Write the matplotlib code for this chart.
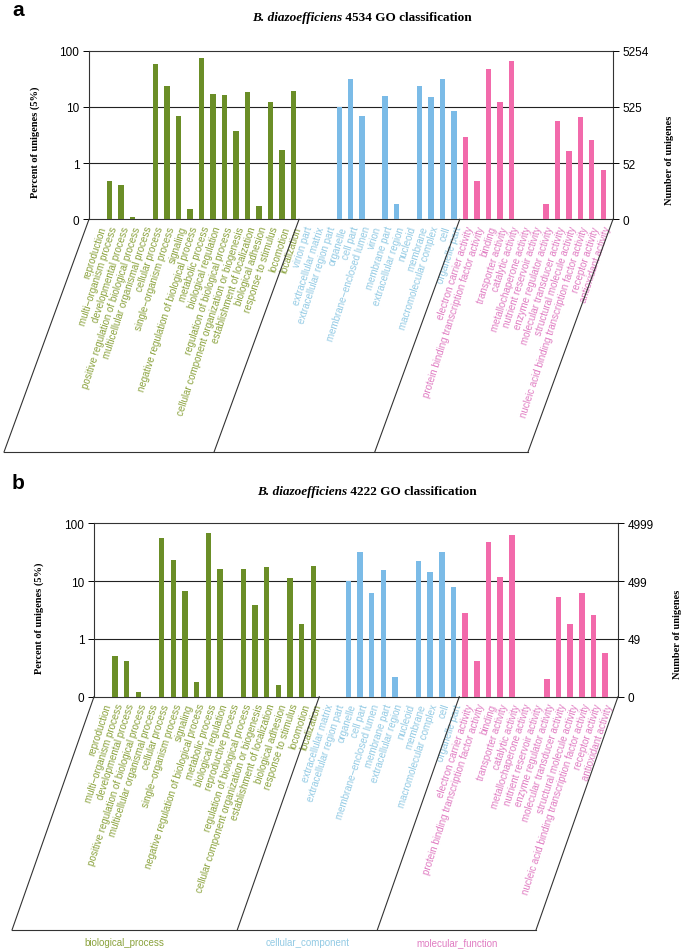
import numpy as np
import matplotlib
matplotlib.use("Agg")
import matplotlib.pyplot as plt
from matplotlib.lines import Line2D
from matplotlib.ticker import NullLocator

plt.rcParams['font.family'] = ['Liberation Sans', 'DejaVu Sans']

# ---- data (percent of unigenes) ----
bp_terms_a = ["reproduction", "multi\u2212organism process", "developmental process",
              "positive regulation of biological process", "multicellular organismal process",
              "cellular process", "single\u2212organism process", "signaling",
              "negative regulation of biological process", "metabolic process",
              "biological regulation", "regulation of biological process",
              "cellular component organization or biogenesis", "establishment of localization",
              "biological adhesion", "response to stimulus", "locomotion", "localization"]
bp_a = [0, 0.49, 0.40, 0.11, 0, 59, 24, 6.8, 0.15, 73, 16.8, 16.5, 3.7, 18.5, 0.17, 12.1, 1.7, 19.3]

bp_terms_b = ["reproduction", "multi\u2212organism process", "developmental process",
              "positive regulation of biological process", "multicellular organismal process",
              "cellular process", "single\u2212organism process", "signaling",
              "negative regulation of biological process", "metabolic process",
              "biological regulation", "reproductive process", "regulation of biological process",
              "cellular component organization or biogenesis", "establishment of localization",
              "biological adhesion", "response to stimulus", "locomotion", "localization"]
bp_b = [0, 0.50, 0.41, 0.12, 0, 56, 23.4, 6.7, 0.18, 69, 16.2, 0, 16, 3.8, 17.7, 0.16, 11.4, 1.8, 18.3]

cc_terms_a = ["virion part", "extracellular matrix", "extracellular region part", "organelle",
              "cell part", "membrane\u2212enclosed lumen", "virion", "membrane part",
              "extracellular region", "nucleoid", "membrane", "macromolecular complex",
              "cell", "organelle part"]
cc_a = [0, 0, 0, 10, 31, 6.8, 0, 15.8, 0.19, 0, 23.5, 15.3, 31, 8.3]

cc_terms_b = ["extracellular matrix", "extracellular region part", "organelle", "cell part",
              "membrane\u2212enclosed lumen", "membrane part", "extracellular region", "nucleoid",
              "membrane", "macromolecular complex", "cell", "organelle part"]
cc_b = [0, 0, 10, 32, 6.3, 15.3, 0.22, 0, 22.6, 14.3, 32, 8.0]

mf_terms = ["electron carrier activity", "protein binding transcription factor activity",
            "binding", "transporter activity", "catalytic activity", "metallochaperone activity",
            "nutrient reservoir activity", "enzyme regulator activity",
            "molecular transducer activity", "structural molecule activity",
            "nucleic acid binding transcription factor activity", "receptor activity",
            "antioxidant activity"]
mf_a = [2.9, 0.49, 48, 12.3, 66, 0, 0, 0.19, 5.5, 1.66, 6.6, 2.6, 0.74]
mf_b = [2.83, 0.41, 47, 11.9, 64, 0, 0, 0.20, 5.4, 1.78, 6.2, 2.55, 0.57]

right_ticks_a = ["0", "52", "525", "5254"]
right_ticks_b = ["0", "49", "499", "4999"]
left_ticks = ["0", "1", "10", "100"]
groups = ["biological_process", "cellular_component", "molecular_function"]

bar_colors = ["#6b8e27", "#7bbbe7", "#f26aab"]
text_colors = ["#8aa23c", "#92cae4", "#e07cc2"]

W, H = 685, 953
fig = plt.figure(figsize=(W / 100, H / 100), dpi=100)


def fx(px):
    return px / W


def fy(py):
    return 1 - py / H


def panel(box, xlim, cats, vals, rticks, letter, strain, title_x, title_y,
          ylab_pos, rlab_pos, bottom_y, shift, show_groups):
    l, r, t, b = box
    ax = fig.add_axes([fx(l), fy(b), fx(r) - fx(l), fy(t) - fy(b)])
    ax.set_yscale("log")
    ax.set_ylim(0.1, 100)
    ax.set_xlim(*xlim)

    start = 0
    bounds = []
    for gi, (terms, v) in enumerate(zip(cats, vals)):
        x = np.arange(start, start + len(terms))
        v = np.array(v, dtype=float)
        m = v > 0
        ax.bar(x[m], v[m] - 0.1, bottom=0.1, width=0.47, color=bar_colors[gi], zorder=3)
        for xi, term in zip(x, terms):
            ax.annotate(term, xy=(xi, 0.1), xycoords="data", xytext=(3.5, -5),
                        textcoords="offset points", rotation=72, rotation_mode="anchor",
                        ha="right", va="center", fontsize=7.0, color=text_colors[gi],
                        annotation_clip=False)
        bounds.append(start - 0.5)
        start += len(terms)
    bounds.append(start - 0.5)

    for yv in [1, 10]:
        ax.axhline(yv, color="#222222", lw=0.8, zorder=1)
    for s in ax.spines.values():
        s.set_color("#333333")
        s.set_linewidth(0.8)

    ax.set_yticks([0.1, 1, 10, 100])
    ax.set_yticklabels(left_ticks, fontsize=8.5)
    ax.yaxis.set_minor_locator(NullLocator())
    ax.set_xticks([])
    ax.tick_params(axis="y", length=4, width=0.7, pad=3)

    ax2 = ax.twinx()
    ax2.set_yscale("log")
    ax2.set_ylim(0.1, 100)
    ax2.set_yticks([0.1, 1, 10, 100])
    ax2.set_yticklabels(rticks, fontsize=8.5)
    ax2.yaxis.set_minor_locator(NullLocator())
    ax2.tick_params(axis="y", length=4, width=0.7, pad=3)
    for s in ax2.spines.values():
        s.set_visible(False)

    # slanted category brackets
    inv = fig.transFigure.inverted()
    tops = [ax.transData.transform((xb, 0.1))[0] for xb in bounds]
    tops[0] = ax.transAxes.transform((0, 0))[0]
    tops[-1] = ax.transAxes.transform((1, 0))[0]
    ybase = ax.transAxes.transform((0, 0))[1]
    ybot = (1 - bottom_y / H) * H
    bx = []
    for xd in tops:
        p0 = inv.transform((xd, ybase))
        p1 = inv.transform((xd + shift, ybot))
        fig.add_artist(Line2D([p0[0], p1[0]], [p0[1], p1[1]], color="#333333", lw=0.8))
        bx.append(p1[0])
    fig.add_artist(Line2D([bx[0], bx[-1]], [fy(bottom_y), fy(bottom_y)], color="#333333", lw=0.8))
    if show_groups:
        for gi, g in enumerate(groups):
            fig.text((bx[gi] + bx[gi + 1]) / 2, fy(bottom_y + 12), g, ha="center", va="center",
                     fontsize=7, color=text_colors[gi])

    # titles and labels
    fig.text(fx(12), fy(title_y - 8), letter, fontsize=15, fontweight="bold", ha="left", va="center")
    fig.text(fx(title_x), fy(title_y), "B. diazoefficiens", fontsize=9.5, fontweight="bold",
             fontstyle="italic", family="Liberation Serif", ha="right", va="center")
    fig.text(fx(title_x), fy(title_y), " " + strain + " GO classification", fontsize=9.5,
             fontweight="bold", family="Liberation Serif", ha="left", va="center")
    fig.text(fx(ylab_pos[0]), fy(ylab_pos[1]), "Percent of unigenes (5%)", rotation=90,
             fontsize=7.5, fontweight="bold", family="Liberation Serif", ha="center", va="center")
    fig.text(fx(rlab_pos[0]), fy(rlab_pos[1]), "Number of unigenes", rotation=90,
             fontsize=7.5, fontweight="bold", family="Liberation Serif", ha="center", va="center")
    return ax


panel((89, 613, 51.7, 220.3), (-0.8, 44.85), [bp_terms_a, cc_terms_a, mf_terms],
      [bp_a, cc_a, mf_a], right_ticks_a, "a", "4534", 342, 18,
      (35, 142), (670, 160), 453, -85, False)

panel((94, 618, 524.3, 697.7), (-0.8, 44.1), [bp_terms_b, cc_terms_b, mf_terms],
      [bp_b, cc_b, mf_b], right_ticks_b, "b", "4222", 347, 492,
      (39, 618), (677, 634), 931, -82, True)

fig.savefig("out.png", dpi=100)
